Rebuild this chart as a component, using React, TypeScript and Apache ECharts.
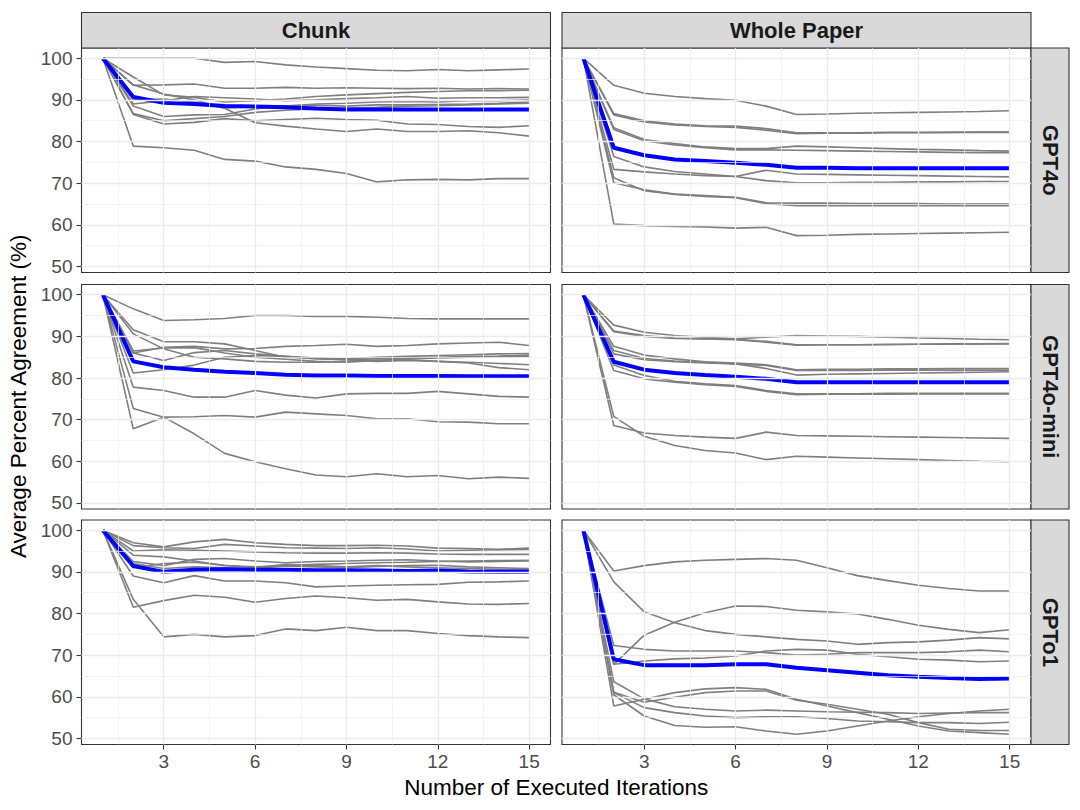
import React, { useEffect, useRef } from "react";
import * as echarts from "echarts";

// ---------------- data ----------------
const iterations = [1, 2, 3, 4, 5, 6, 7, 8, 9, 10, 11, 12, 13, 14, 15];
const yTickValues = [50, 60, 70, 80, 90, 100];
const yMinorValues = [55, 65, 75, 85, 95];
const xTickValues = [3, 6, 9, 12, 15];
const xMinorValues = [1.5, 4.5, 7.5, 10.5, 13.5];
const columnLabels = ["Chunk", "Whole Paper"];
const rowLabels = ["GPT4o", "GPT4o-mini", "GPTo1"];
const xTitle = "Number of Executed Iterations";
const yTitle = "Average Percent Agreement (%)";

// Chunk / GPT4o
const chunkGPT4o = [
  [100, 100, 100, 100, 99.0, 99.2, 98.4, 97.9, 97.5, 97.1, 97.0, 97.3, 97.0, 97.2, 97.4],
  [100, 93.5, 93.6, 93.8, 92.8, 92.8, 93.0, 92.8, 92.9, 92.8, 92.7, 92.8, 92.6, 92.7, 92.6],
  [100, 95.5, 91.2, 90.6, 89.5, 89.8, 90.2, 90.8, 91.2, 91.5, 91.8, 92.0, 92.2, 92.2, 92.3],
  [100, 89.0, 89.8, 90.8, 90.5, 90.2, 89.8, 90.0, 90.3, 90.5, 90.8, 90.4, 90.5, 90.5, 90.6],
  [100, 90.0, 90.2, 89.5, 88.0, 88.5, 88.5, 89.0, 89.2, 89.5, 89.6, 89.5, 89.8, 89.8, 90.0],
  [100, 88.5, 86.0, 86.4, 86.5, 87.8, 88.6, 88.7, 88.5, 88.8, 88.8, 88.9, 89.0, 89.2, 89.5],
  [100, 86.7, 85.0, 85.5, 86.0, 87.0, 87.5, 87.8, 88.0, 88.2, 88.5, 88.6, 88.8, 89.0, 89.2],
  [100, 86.5, 84.2, 84.6, 85.5, 85.0, 85.3, 85.6, 85.3, 85.1, 84.2, 84.1, 83.6, 83.4, 83.8],
  [100, 93.6, 91.4, 90.0, 88.0, 84.5, 83.7, 83.0, 82.4, 83.0, 82.4, 82.4, 82.6, 82.1, 81.3],
  [100, 78.9, 78.5, 77.9, 75.7, 75.3, 73.9, 73.3, 72.3, 70.3, 70.8, 70.9, 70.8, 71.1, 71.1],
];
const chunkGPT4oMean = [100, 90.7, 89.3, 89.0, 88.5, 88.4, 88.2, 87.9, 87.7, 87.7, 87.7, 87.7, 87.7, 87.7, 87.7];

// Whole Paper / GPT4o
const wholeGPT4o = [
  [100, 93.5, 91.6, 90.8, 90.3, 89.9, 88.5, 86.5, 86.6, 86.8, 86.9, 87.0, 87.1, 87.2, 87.4],
  [100, 86.7, 85.0, 84.2, 83.8, 83.7, 83.1, 82.1, 82.1, 82.1, 82.2, 82.2, 82.2, 82.3, 82.3],
  [100, 86.4, 84.7, 84.0, 83.6, 83.4, 82.7, 81.9, 82.0, 82.0, 82.1, 82.1, 82.2, 82.2, 82.2],
  [100, 83.3, 80.5, 79.5, 78.7, 78.3, 78.3, 78.9, 78.7, 78.5, 78.3, 78.1, 78.0, 77.8, 77.7],
  [100, 82.9, 80.2, 79.2, 78.5, 78.0, 78.0, 77.9, 77.8, 77.7, 77.6, 77.5, 77.4, 77.3, 77.3],
  [100, 76.4, 73.9, 72.8, 72.2, 71.6, 73.1, 72.2, 72.1, 72.0, 71.9, 71.8, 71.7, 71.6, 71.5],
  [100, 73.3, 72.7, 72.2, 71.8, 71.6, 70.6, 70.1, 70.1, 70.2, 70.2, 70.3, 70.3, 70.4, 70.4],
  [100, 71.3, 68.2, 67.3, 66.8, 66.5, 65.1, 64.6, 64.6, 64.6, 64.6, 64.6, 64.6, 64.6, 64.6],
  [100, 70.1, 68.4, 67.4, 67.0, 66.6, 65.3, 65.2, 65.2, 65.1, 65.1, 65.1, 65.0, 65.0, 65.0],
  [100, 60.2, 59.8, 59.6, 59.5, 59.2, 59.4, 57.4, 57.5, 57.7, 57.8, 57.9, 58.0, 58.1, 58.2],
];
const wholeGPT4oMean = [100, 78.5, 76.7, 75.7, 75.3, 74.9, 74.4, 73.7, 73.7, 73.6, 73.6, 73.6, 73.6, 73.6, 73.6];

// Chunk / GPT4o-mini
const chunkGPT4oMini = [
  [100, 96.6, 93.8, 94.0, 94.3, 95.0, 95.0, 94.8, 94.8, 94.6, 94.3, 94.2, 94.2, 94.2, 94.2],
  [100, 86.0, 87.4, 87.6, 87.0, 87.1, 87.6, 87.8, 88.1, 87.6, 87.8, 88.2, 88.4, 88.6, 87.8],
  [100, 91.6, 88.7, 88.7, 88.2, 86.6, 85.0, 84.8, 84.6, 85.0, 85.2, 85.4, 85.6, 85.8, 85.9],
  [100, 86.0, 84.2, 86.1, 86.6, 85.8, 85.2, 84.6, 84.4, 84.6, 84.8, 85.0, 85.2, 85.3, 85.5],
  [100, 86.5, 87.2, 87.3, 86.0, 85.0, 84.5, 84.0, 83.8, 84.2, 84.6, 84.8, 85.0, 85.1, 85.2],
  [100, 81.2, 82.0, 83.1, 85.0, 85.4, 85.2, 84.8, 84.4, 84.0, 84.2, 84.0, 83.8, 83.5, 83.2],
  [100, 90.6, 87.0, 85.0, 84.6, 84.0, 83.8, 83.8, 84.0, 84.2, 84.4, 84.0, 83.6, 82.5, 82.0],
  [100, 77.8, 77.0, 75.4, 75.4, 77.0, 75.9, 75.2, 76.2, 76.3, 76.3, 76.8, 76.2, 75.6, 75.4],
  [100, 67.8, 70.6, 70.7, 71.0, 70.6, 71.8, 71.4, 71.0, 70.2, 70.2, 69.5, 69.4, 69.0, 69.0],
  [100, 72.7, 70.6, 66.6, 61.9, 59.9, 58.2, 56.7, 56.3, 57.0, 56.3, 56.6, 55.8, 56.2, 55.9],
];
const chunkGPT4oMiniMean = [100, 84.0, 82.6, 82.0, 81.5, 81.2, 80.8, 80.6, 80.6, 80.5, 80.5, 80.5, 80.4, 80.4, 80.4];

// Whole Paper / GPT4o-mini
const wholeGPT4oMini = [
  [100, 92.7, 91.0, 90.2, 89.8, 89.4, 89.8, 90.2, 90.1, 90.0, 89.8, 89.6, 89.5, 89.3, 89.2],
  [100, 91.1, 90.0, 89.5, 89.4, 89.2, 88.6, 87.9, 88.0, 88.0, 88.0, 88.1, 88.1, 88.2, 88.2],
  [100, 91.3, 90.2, 89.6, 89.4, 89.3, 88.8, 88.0, 88.0, 88.0, 88.1, 88.1, 88.2, 88.2, 88.3],
  [100, 87.6, 85.5, 84.6, 83.9, 83.6, 83.2, 82.0, 82.1, 82.1, 82.2, 82.2, 82.3, 82.3, 82.3],
  [100, 86.6, 84.7, 84.1, 83.8, 83.4, 83.0, 81.8, 81.8, 81.8, 81.9, 81.9, 81.9, 81.9, 81.9],
  [100, 85.8, 84.4, 83.9, 83.6, 83.4, 82.3, 80.7, 80.9, 81.0, 81.1, 81.2, 81.3, 81.4, 81.5],
  [100, 83.1, 80.6, 79.2, 78.6, 78.2, 77.0, 76.2, 76.2, 76.2, 76.3, 76.3, 76.3, 76.3, 76.3],
  [100, 81.8, 79.8, 79.0, 78.4, 78.0, 76.8, 76.0, 76.1, 76.1, 76.1, 76.2, 76.2, 76.2, 76.2],
  [100, 68.6, 66.8, 66.2, 65.8, 65.5, 67.0, 66.2, 66.1, 66.0, 65.9, 65.8, 65.7, 65.6, 65.5],
  [100, 70.8, 66.0, 63.8, 62.6, 62.0, 60.4, 61.2, 61.0, 60.8, 60.6, 60.4, 60.2, 60.0, 59.9],
];
const wholeGPT4oMiniMean = [100, 83.9, 82.0, 81.2, 80.7, 80.3, 79.8, 79.0, 79.0, 79.0, 79.0, 79.0, 79.0, 79.0, 79.0];

// Chunk / GPTo1
const chunkGPTo1 = [
  [100, 97.0, 96.0, 97.2, 97.8, 97.0, 96.6, 96.3, 96.3, 96.4, 96.2, 95.7, 95.6, 95.4, 95.7],
  [100, 96.3, 95.8, 95.6, 96.6, 96.2, 95.8, 95.7, 95.6, 95.8, 95.5, 95.0, 95.2, 95.3, 95.4],
  [100, 95.0, 95.3, 95.2, 95.0, 94.8, 94.6, 94.5, 94.5, 94.6, 94.5, 94.3, 94.2, 94.2, 94.2],
  [100, 94.0, 93.6, 92.6, 91.5, 91.2, 91.5, 91.8, 92.0, 92.2, 92.3, 92.5, 92.6, 92.7, 92.8],
  [100, 92.5, 91.5, 93.0, 93.2, 92.6, 92.2, 92.5, 92.6, 92.8, 92.9, 92.6, 92.4, 92.5, 92.6],
  [100, 91.0, 92.0, 92.3, 91.6, 91.0, 91.8, 91.5, 91.2, 91.5, 91.2, 91.0, 90.8, 90.6, 90.6],
  [100, 92.0, 90.8, 91.2, 91.0, 90.8, 91.4, 91.2, 91.0, 91.3, 91.5, 91.6, 91.2, 91.0, 90.8],
  [100, 89.0, 87.4, 89.1, 87.8, 87.8, 87.4, 86.4, 86.6, 86.8, 86.9, 87.0, 87.5, 87.6, 87.8],
  [100, 81.5, 83.1, 84.4, 83.9, 82.7, 83.6, 84.2, 83.8, 83.2, 83.4, 82.8, 82.3, 82.2, 82.4],
  [100, 83.4, 74.4, 75.0, 74.4, 74.7, 76.3, 75.9, 76.7, 75.9, 75.9, 75.2, 74.7, 74.4, 74.2],
];
const chunkGPTo1Mean = [100, 91.4, 90.0, 90.5, 90.6, 90.5, 90.5, 90.4, 90.4, 90.3, 90.2, 90.3, 90.1, 90.0, 90.0];

// Whole Paper / GPTo1
const wholeGPTo1 = [
  [100, 90.2, 91.5, 92.4, 92.8, 93.0, 93.2, 92.8, 91.0, 89.1, 87.9, 86.8, 86.0, 85.4, 85.4],
  [100, 87.6, 80.4, 77.8, 75.9, 75.0, 74.4, 73.8, 73.4, 72.6, 73.0, 73.2, 73.6, 74.2, 73.9],
  [100, 67.8, 74.8, 77.9, 80.2, 81.8, 81.7, 80.8, 80.4, 79.9, 78.6, 77.2, 76.2, 75.4, 76.1],
  [100, 72.3, 71.4, 71.0, 71.0, 71.0, 70.6, 70.0, 70.2, 70.6, 70.6, 70.6, 70.8, 71.2, 70.8],
  [100, 67.8, 68.6, 69.1, 69.3, 69.8, 71.0, 71.4, 71.2, 70.2, 69.6, 69.0, 68.8, 68.4, 68.6],
  [100, 57.8, 59.4, 61.0, 61.9, 62.2, 61.8, 59.4, 57.8, 56.2, 54.6, 53.0, 51.8, 51.4, 51.0],
  [100, 61.1, 58.7, 59.9, 61.0, 61.4, 61.4, 59.2, 58.2, 57.0, 55.8, 53.8, 52.2, 51.9, 51.9],
  [100, 63.6, 59.5, 57.6, 57.0, 56.6, 56.8, 56.6, 56.4, 56.3, 56.2, 56.0, 56.1, 56.2, 56.2],
  [100, 61.0, 57.4, 56.2, 55.4, 55.0, 55.2, 55.2, 54.8, 54.2, 54.0, 53.8, 53.8, 53.6, 53.9],
  [100, 60.5, 55.4, 53.1, 52.7, 52.8, 51.8, 51.0, 51.8, 53.0, 54.2, 55.2, 56.0, 56.6, 57.0],
];
const wholeGPTo1Mean = [100, 69.0, 67.6, 67.6, 67.6, 67.8, 67.8, 67.0, 66.4, 65.8, 65.2, 64.8, 64.5, 64.3, 64.4];

// --------------- layout ---------------
const PANEL_LEFT = [81.5, 562];
const PANEL_TOP = [48, 284.5, 520];
const PANEL_W = 469;
const PANEL_H = 224.5;
const FONT = "Liberation Sans";

const panels = [
  { row: 0, col: 0, lines: chunkGPT4o, mean: chunkGPT4oMean },
  { row: 0, col: 1, lines: wholeGPT4o, mean: wholeGPT4oMean },
  { row: 1, col: 0, lines: chunkGPT4oMini, mean: chunkGPT4oMiniMean },
  { row: 1, col: 1, lines: wholeGPT4oMini, mean: wholeGPT4oMiniMean },
  { row: 2, col: 0, lines: chunkGPTo1, mean: chunkGPTo1Mean },
  { row: 2, col: 1, lines: wholeGPTo1, mean: wholeGPTo1Mean },
];

function buildOption() {
  const grid = panels.map((p) => ({
    left: PANEL_LEFT[p.col],
    top: PANEL_TOP[p.row],
    width: PANEL_W,
    height: PANEL_H,
    show: true,
    backgroundColor: "#FFFFFF",
    borderColor: "#333333",
    borderWidth: 1.1,
    containLabel: false,
  }));

  const xAxis = panels.map((p, i) => ({
    type: "value",
    gridIndex: i,
    min: 0.3,
    max: 15.7,
    axisLine: { show: false },
    splitLine: { show: false },
    minorSplitLine: { show: false },
    axisTick: {
      show: p.row === 2,
      customValues: xTickValues,
      length: 5,
      inside: false,
      lineStyle: { color: "#333333", width: 1.1 },
    },
    axisLabel: {
      show: p.row === 2,
      customValues: xTickValues,
      margin: 7,
      fontSize: 19,
      color: "#4D4D4D",
      fontFamily: FONT,
    },
  }));

  const yAxis = panels.map((p, i) => ({
    type: "value",
    gridIndex: i,
    min: 48.55,
    max: 102.45,
    axisLine: { show: false },
    splitLine: { show: false },
    minorSplitLine: { show: false },
    axisTick: {
      show: p.col === 0,
      customValues: yTickValues,
      length: 5,
      inside: false,
      lineStyle: { color: "#333333", width: 1.1 },
    },
    axisLabel: {
      show: p.col === 0,
      customValues: yTickValues,
      margin: 9,
      fontSize: 19,
      color: "#4D4D4D",
      fontFamily: FONT,
    },
  }));

  const series: any[] = [];
  panels.forEach((p, i) => {
    const major = { color: "#EBEBEB", width: 1.3, type: "solid" };
    const minor = { color: "#EEEEEE", width: 0.7, type: "solid" };
    series.push({
      type: "line",
      xAxisIndex: i,
      yAxisIndex: i,
      data: [[iterations[0], p.mean[0]]],
      showSymbol: false,
      symbol: "none",
      lineStyle: { width: 0, opacity: 0 },
      silent: true,
      z: 1,
      markLine: {
        silent: true,
        symbol: ["none", "none"],
        label: { show: false },
        emphasis: { disabled: true },
        animation: false,
        data: [
          ...yMinorValues.map((v) => ({ yAxis: v, lineStyle: minor })),
          ...xMinorValues.map((v) => ({ xAxis: v, lineStyle: minor })),
          ...yTickValues.map((v) => ({ yAxis: v, lineStyle: major })),
          ...xTickValues.map((v) => ({ xAxis: v, lineStyle: major })),
        ],
      },
    });
    p.lines.forEach((arr) => {
      series.push({
        type: "line",
        xAxisIndex: i,
        yAxisIndex: i,
        data: iterations.map((x, k) => [x, arr[k]]),
        showSymbol: false,
        symbol: "none",
        silent: true,
        lineStyle: { color: "#7F7F7F", width: 1.6 },
        z: 2,
      });
    });
    series.push({
      type: "line",
      xAxisIndex: i,
      yAxisIndex: i,
      data: iterations.map((x, k) => [x, p.mean[k]]),
      showSymbol: false,
      symbol: "none",
      silent: true,
      lineStyle: { color: "#0000FF", width: 4 },
      z: 3,
    });
  });

  const graphic: any[] = [];
  columnLabels.forEach((lab, c) => {
    graphic.push({
      type: "rect",
      shape: { x: PANEL_LEFT[c], y: 12.5, width: PANEL_W, height: 35.5 },
      style: { fill: "#D9D9D9", stroke: "#333333", lineWidth: 1.1 },
      silent: true,
    });
    graphic.push({
      type: "text",
      x: PANEL_LEFT[c] + PANEL_W / 2,
      y: 30,
      silent: true,
      style: {
        text: lab,
        align: "center",
        verticalAlign: "middle",
        fontSize: 22,
        fontWeight: "bold",
        fontFamily: FONT,
        fill: "#1A1A1A",
      },
    });
  });
  rowLabels.forEach((lab, r) => {
    graphic.push({
      type: "rect",
      shape: { x: PANEL_LEFT[1] + PANEL_W, y: PANEL_TOP[r], width: 38, height: PANEL_H },
      style: { fill: "#D9D9D9", stroke: "#333333", lineWidth: 1.1 },
      silent: true,
    });
    graphic.push({
      type: "text",
      x: PANEL_LEFT[1] + PANEL_W + 19,
      y: PANEL_TOP[r] + PANEL_H / 2,
      rotation: -Math.PI / 2,
      silent: true,
      style: {
        text: lab,
        align: "center",
        verticalAlign: "middle",
        fontSize: 22,
        fontWeight: "bold",
        fontFamily: FONT,
        fill: "#1A1A1A",
      },
    });
  });
  graphic.push({
    type: "text",
    x: (PANEL_LEFT[0] + PANEL_LEFT[1] + PANEL_W) / 2,
    y: 787,
    silent: true,
    style: {
      text: xTitle,
      align: "center",
      verticalAlign: "middle",
      fontSize: 22.5,
      fontFamily: FONT,
      fill: "#000000",
    },
  });
  graphic.push({
    type: "text",
    x: 18,
    y: (PANEL_TOP[0] + PANEL_TOP[2] + PANEL_H) / 2,
    rotation: Math.PI / 2,
    silent: true,
    style: {
      text: yTitle,
      align: "center",
      verticalAlign: "middle",
      fontSize: 22.5,
      fontFamily: FONT,
      fill: "#000000",
    },
  });

  return {
    animation: false,
    backgroundColor: "#FFFFFF",
    textStyle: { fontFamily: FONT },
    grid,
    xAxis,
    yAxis,
    series,
    graphic,
  };
}

export default function App() {
  const ref = useRef<HTMLDivElement>(null);
  useEffect(() => {
    if (!ref.current) return;
    const chart = echarts.init(ref.current, null, { renderer: "svg", width: 1080, height: 810 });
    chart.setOption(buildOption() as any);
    return () => chart.dispose();
  }, []);
  return (
    <div
      ref={ref}
      style={{ position: "fixed", left: 0, top: 0, width: 1080, height: 810, background: "#FFFFFF" }}
    />
  );
}
